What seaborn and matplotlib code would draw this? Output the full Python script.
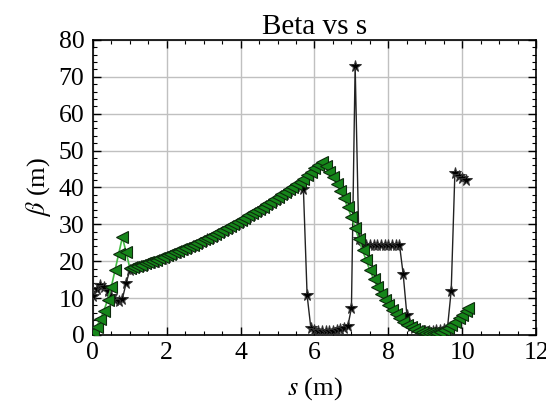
import matplotlib
matplotlib.use("Agg")
import matplotlib.pyplot as plt
import seaborn as sns
import pandas as pd
from matplotlib.ticker import MultipleLocator

# ---- data ----
s_x = [0.0, 0.1, 0.2, 0.3, 0.4, 0.5, 0.6, 0.7, 0.8, 0.9,
       1.0, 1.1, 1.2, 1.3, 1.4, 1.5, 1.6, 1.7, 1.8, 1.9,
       2.0, 2.1, 2.2, 2.3, 2.4, 2.5, 2.6, 2.7, 2.8, 2.9,
       3.0, 3.1, 3.2, 3.3, 3.4, 3.5, 3.6, 3.7, 3.8, 3.9,
       4.0, 4.1, 4.2, 4.3, 4.4, 4.5, 4.6, 4.7, 4.8, 4.9,
       5.0, 5.1, 5.2, 5.3, 5.4, 5.5, 5.6, 5.7, 5.8, 5.9,
       6.0, 6.1, 6.2, 6.3, 6.4, 6.5, 6.6, 6.7, 6.8, 6.9,
       7.0, 7.1, 7.2, 7.3, 7.4, 7.5, 7.6, 7.7, 7.8, 7.9,
       8.0, 8.1, 8.2, 8.3, 8.4, 8.5, 8.6, 8.7, 8.8, 8.9,
       9.0, 9.1, 9.2, 9.3, 9.4, 9.5, 9.6, 9.7, 9.8, 9.9,
       10.0, 10.1]
beta_x = [10.5, 12.5, 13.5, 13.0, 12.0, 10.5, 9.5, 9.3, 9.8, 14.0,
          17.5, 18.0, 18.3, 18.6, 18.9, 19.2, 19.6, 19.9, 20.3, 20.7,
          21.1, 21.5, 21.9, 22.3, 22.7, 23.1, 23.6, 24.0, 24.5, 24.9,
          25.4, 25.9, 26.4, 26.9, 27.4, 27.9, 28.5, 29.0, 29.6, 30.1,
          30.7, 31.3, 31.9, 32.5, 33.1, 33.7, 34.3, 35.0, 35.6, 36.3,
          36.9, 37.6, 38.3, 39.0, 39.6, 40.3, 40.8, 39.5, 10.8, 2.0,
          1.3, 1.1, 1.0, 1.0, 1.1, 1.2, 1.3, 1.5, 1.8, 2.3,
          7.3, 73.0, 26.0, 24.5, 24.5, 24.5, 24.5, 24.5, 24.5, 24.5,
          24.5, 24.5, 24.5, 24.5, 16.5, 5.5, 2.5, 1.8, 1.4, 1.2,
          1.1, 1.1, 1.2, 1.3, 1.4, 1.6, 2.0, 12.0, 44.0, 43.2,
          42.6, 42.0]

s_y = [0.0, 0.1, 0.2, 0.3, 0.4, 0.5, 0.6, 0.7, 0.8, 0.9,
       1.0, 1.1, 1.2, 1.3, 1.4, 1.5, 1.6, 1.7, 1.8, 1.9,
       2.0, 2.1, 2.2, 2.3, 2.4, 2.5, 2.6, 2.7, 2.8, 2.9,
       3.0, 3.1, 3.2, 3.3, 3.4, 3.5, 3.6, 3.7, 3.8, 3.9,
       4.0, 4.1, 4.2, 4.3, 4.4, 4.5, 4.6, 4.7, 4.8, 4.9,
       5.0, 5.1, 5.2, 5.3, 5.4, 5.5, 5.6, 5.7, 5.8, 5.9,
       6.0, 6.1, 6.2, 6.3, 6.4, 6.5, 6.6, 6.7, 6.8, 6.9,
       7.0, 7.1, 7.2, 7.3, 7.4, 7.5, 7.6, 7.7, 7.8, 7.9,
       8.0, 8.1, 8.2, 8.3, 8.4, 8.5, 8.6, 8.7, 8.8, 8.9,
       9.0, 9.1, 9.2, 9.3, 9.4, 9.5, 9.6, 9.7, 9.8, 9.9,
       10.0, 10.1, 10.15]
beta_y = [0.8, 2.2, 4.2, 6.6, 9.5, 13.0, 17.5, 22.0, 26.5, 22.5,
          18.2, 18.5, 18.8, 19.1, 19.4, 19.7, 20.1, 20.4, 20.8, 21.2,
          21.6, 22.0, 22.4, 22.8, 23.2, 23.6, 24.1, 24.5, 25.0, 25.4,
          25.9, 26.4, 26.9, 27.4, 27.9, 28.4, 29.0, 29.5, 30.1, 30.6,
          31.2, 31.8, 32.4, 33.0, 33.6, 34.2, 34.8, 35.5, 36.1, 36.8,
          37.4, 38.1, 38.8, 39.5, 40.2, 40.9, 41.6, 42.4, 43.3, 44.2,
          45.2, 46.2, 47.0, 45.8, 44.3, 42.7, 41.0, 39.1, 37.0, 34.6,
          32.0, 29.0, 26.0, 23.0, 20.2, 17.5, 15.2, 13.0, 11.2, 9.6,
          8.1, 6.8, 5.6, 4.5, 3.6, 2.8, 2.1, 1.5, 1.1, 0.8,
          0.6, 0.5, 0.5, 0.6, 0.9, 1.3, 1.9, 2.6, 3.5, 4.5,
          5.5, 6.5, 7.3]

title = "Beta vs s"
x_ticks = [0, 2, 4, 6, 8, 10, 12]
y_ticks = [0, 10, 20, 30, 40, 50, 60, 70, 80]

sns.set_theme(style="white")
plt.rcParams["font.family"] = ["Liberation Serif", "DejaVu Serif"]
plt.rcParams["mathtext.fontset"] = "stix"
plt.rcParams["text.color"] = "black"
plt.rcParams["axes.labelcolor"] = "black"

fig = plt.figure(figsize=(5.46, 4.11), dpi=100)
ax = fig.add_axes([0.170, 0.185, 0.812, 0.718])

dfx = pd.DataFrame({"s": s_x, "beta": beta_x})
dfy = pd.DataFrame({"s": s_y, "beta": beta_y})

sns.lineplot(data=dfx, x="s", y="beta", ax=ax, sort=False, estimator=None,
             color="#222222", linewidth=1.0, marker="*", markersize=8.5,
             markerfacecolor="black", markeredgecolor="#333333", zorder=3)
sns.lineplot(data=dfy, x="s", y="beta", ax=ax, sort=False, estimator=None,
             color="#44bb44", linewidth=1.2, marker="<", markersize=8,
             markerfacecolor="#16861a", markeredgecolor="#0d2a0d",
             markeredgewidth=0.8, zorder=4)

ax.set_xlim(0, 12)
ax.set_ylim(0, 80)
ax.set_xticks(x_ticks)
ax.set_yticks(y_ticks)
ax.xaxis.set_minor_locator(MultipleLocator(0.5))
ax.yaxis.set_minor_locator(MultipleLocator(2))
ax.tick_params(which="both", direction="in", top=True, right=True,
               bottom=True, left=True, labelsize=18.5, colors="black")
ax.tick_params(axis="x", which="major", pad=5)
ax.tick_params(axis="y", which="major", pad=6)
ax.tick_params(which="major", length=6, width=1)
ax.tick_params(which="minor", length=3, width=0.8)
ax.grid(True, which="major", color="#c0c0c0", linewidth=1.0)
ax.set_axisbelow(True)
for sp in ax.spines.values():
    sp.set_color("black")
    sp.set_linewidth(1.2)

ax.set_title(title, fontsize=21, pad=4, color="black")
ax.set_xlabel(r"$s$ (m)", fontsize=19, labelpad=8, color="black")
ax.set_ylabel(r"$\beta$ (m)", fontsize=19, labelpad=4, color="black")

fig.savefig("out.png", dpi=100)
